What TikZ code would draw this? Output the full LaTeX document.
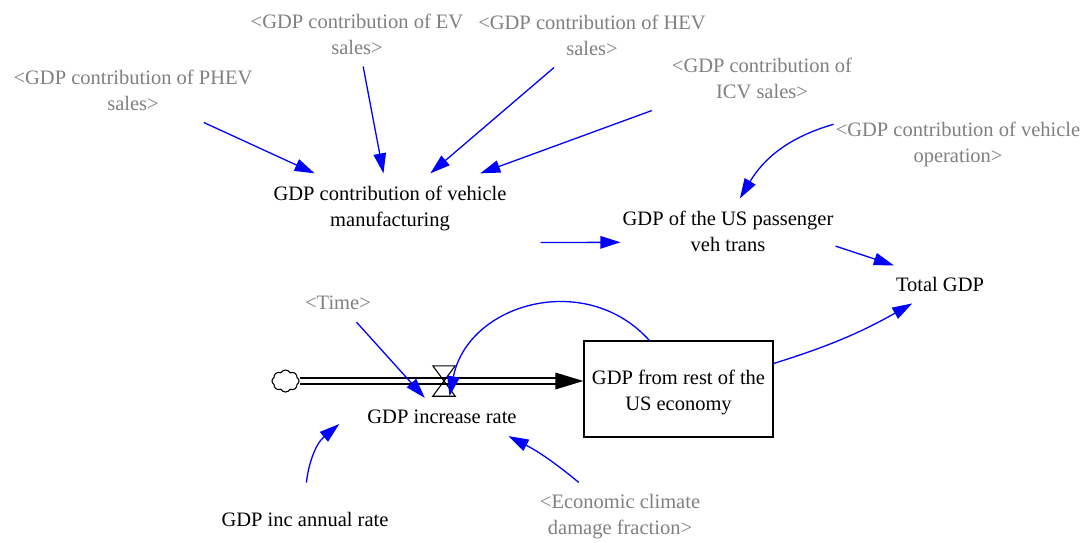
\documentclass[tikz,border=0pt]{standalone}
\usepackage{fontspec}
\setmainfont{Liberation Serif}
\usetikzlibrary{arrows.meta,shapes.symbols,calc}
\definecolor{shadowgray}{RGB}{128,128,128}
\definecolor{linkblue}{RGB}{0,0,255}
\begin{document}
\begin{tikzpicture}[x=1pt,y=1pt,
  lbl/.style={font=\fontsize{20.5}{26}\selectfont, align=center, inner xsep=2pt, inner ysep=12pt},
  shadow/.style={lbl, text=shadowgray},
  link/.style={draw=linkblue, line width=1.3pt, -{Triangle[length=20pt,width=12.5pt]}},
  pipe/.style={draw=black, double=white, double distance=3.6pt, line width=1.9pt},
  stockbox/.style={draw, line width=1.3pt, minimum width=189pt, minimum height=96pt, inner sep=0pt}]
\useasboundingbox[fill=white] (0,0) rectangle (1086,542);

% shadow variables
\node[shadow] (ev)    at (357,508) {<GDP contribution of EV\\sales>};
\node[shadow] (hev)   at (592,507) {<GDP contribution of HEV\\sales>};
\node[shadow] (phev)  at (133,452) {<GDP contribution of PHEV\\sales>};
\node[shadow] (icv)   at (762,464) {<GDP contribution of\\ICV sales>};
\node[shadow] (vehop) at (958,398) {<GDP contribution of vehicle\\operation>};
\node[shadow] (time)  at (338,239) {<Time>};
\node[shadow] (econ)  at (620,25)  {<Economic climate\\damage fraction>};

% model variables
\node[lbl] (manuf) at (390,334) {GDP contribution of vehicle\\manufacturing};
\node[lbl] (pass)  at (728,311) {GDP of the US passenger\\veh trans};
\node[lbl] (total) at (940,258) {Total GDP};
\node[lbl] (rate)  at (442,125) {GDP increase rate};
\node[lbl] (inc)   at (305,23)  {GDP inc annual rate};
\node[stockbox] (stock) at (678.5,153) {};
\node[lbl] (stocktext) at ([yshift=-3.5pt]stock.center) {GDP from rest of the\\US economy};

% inflow: cloud source, pipe, valve
\node[cloud, draw, cloud puffs=8, cloud puff arc=120, aspect=1.3,
      minimum width=27pt, minimum height=22pt, inner sep=0pt, line width=1.1pt] (src) at (285.5,161) {};
\draw[pipe, shorten >=26pt] (src.east) -- (src.east -| stock.west);
\fill[black] (src.east -| stock.west) -- ++(-28,8.5) -- ++(0,-17) -- cycle;
\node[minimum width=22pt, minimum height=30pt, inner sep=0pt] (valve) at (444,161) {};
\draw[line width=1.1pt] (valve.north west) -- (valve.north east) -- (valve.south west) -- (valve.south east) -- cycle;

% causal links
\draw[link] (phev) -- (manuf);
\draw[link] (ev) -- (manuf);
\draw[link] (hev) -- (manuf);
\draw[link] ([xshift=-18pt]icv.south west) -- (manuf.21);
\draw[link] (vehop.171) to[out=196,in=59] (pass.70);
\draw[link, shorten <=32pt] (manuf.south east) -- (pass.186);
\draw[link] (pass.-8) -- (total.158);
\draw[link] (stock.15) to[bend right=6] (total.215);
\draw[link] (stock.121) .. controls (586,272) and (468,239) .. (valve.-70);
\draw[link] (time.-46) -- (rate.132);
\draw[link, shorten <=17pt] (inc.north) to[out=85,in=220] ([xshift=-26pt,yshift=-7pt]rate.west);
\draw[link] (econ.140) to[bend right=6] (rate.-16);
\end{tikzpicture}
\end{document}
